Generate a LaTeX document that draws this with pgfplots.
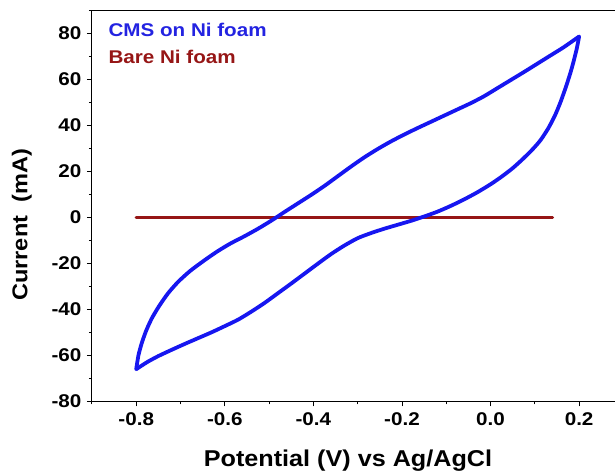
\documentclass[border=0pt]{standalone}
\usepackage{fontspec}
\setmainfont{Liberation Sans}[FakeStretch=1.12]
\newfontfamily\tickfont{Liberation Sans}[FakeStretch=1.12]
\newfontfamily\labelfont{Liberation Sans}[FakeStretch=1.1]
\usepackage{pgfplots}
\usepackage{pgfplotstable}
\pgfplotsset{compat=1.18}

\definecolor{cmsblue}{RGB}{22,22,240}
\definecolor{cmstext}{RGB}{35,35,225}
\definecolor{barered}{RGB}{150,22,22}

% CMS on Ni foam, anodic sweep (-0.8 V -> 0.2 V)
\pgfplotstableread{
V I
-0.800 -66.0
-0.795 -60.0
-0.788 -55.0
-0.778 -49.5
-0.765 -44.0
-0.748 -38.5
-0.728 -33.0
-0.705 -28.0
-0.678 -23.3
-0.648 -19.0
-0.618 -15.0
-0.588 -11.5
-0.555 -8.2
-0.525 -5.0
-0.495 -1.5
-0.465 2.3
-0.435 6.0
-0.405 9.7
-0.375 13.6
-0.345 17.8
-0.315 22.0
-0.285 26.0
-0.255 29.6
-0.225 32.9
-0.195 35.9
-0.165 38.7
-0.135 41.4
-0.105 44.1
-0.075 46.8
-0.045 49.5
-0.015 52.5
0.015 56.0
0.045 59.5
0.075 63.0
0.105 66.6
0.135 70.2
0.165 73.8
0.200 78.5
}\cmsanodic

% CMS on Ni foam, cathodic sweep (0.2 V -> -0.8 V)
\pgfplotstableread{
V I
0.200 78.5
0.195 73.5
0.188 68.0
0.180 62.5
0.170 56.5
0.158 50.0
0.145 44.0
0.130 38.5
0.113 33.5
0.095 29.5
0.073 25.3
0.050 21.3
0.025 17.6
0.000 14.3
-0.030 10.8
-0.060 7.7
-0.090 4.9
-0.120 2.4
-0.150 0.3
-0.180 -1.6
-0.210 -3.3
-0.240 -5.0
-0.270 -6.9
-0.300 -9.1
-0.330 -12.3
-0.360 -16.0
-0.390 -20.2
-0.420 -24.5
-0.450 -28.8
-0.480 -33.0
-0.510 -37.2
-0.540 -41.0
-0.570 -44.5
-0.600 -47.3
-0.630 -50.0
-0.660 -52.5
-0.690 -55.0
-0.720 -57.6
-0.750 -60.3
-0.775 -62.9
-0.800 -66.0
}\cmscathodic

% Bare Ni foam: flat response over the same window
\pgfplotstableread{
V I
-0.80 0
-0.60 0
-0.40 0
-0.20 0
0.00 0
0.14 0
}\baredata

\begin{document}
\begin{tikzpicture}
\begin{axis}[
  name=ax,
  scale only axis,
  width=523bp, height=391.7bp,
  xmin=-0.9, xmax=0.28, ymin=-80, ymax=90,
  axis x line*=box, axis y line*=left,
  axis line style={-, line width=0.9pt, black},
  xtick={-0.8,-0.6,-0.4,-0.2,0,0.2},
  minor xtick={-0.9,-0.7,-0.5,-0.3,-0.1,0.1},
  ytick={-80,-60,-40,-20,0,20,40,60,80},
  minor ytick={-70,-50,-30,-10,10,30,50,70,90},
  xtick pos=bottom, ytick pos=left,
  tick align=outside,
  major tick length=5bp, minor tick length=3bp,
  tick style={line width=0.9pt, black},
  /pgf/number format/assume math mode=true,
  ticklabel style={font=\tickfont\fontsize{18.5}{18.5}\selectfont\bfseries, text=black},
  xticklabel style={yshift=-3bp, /pgf/number format/.cd, fixed, fixed zerofill, precision=1},
  yticklabel style={xshift=-2bp},
  xlabel={Potential (V) vs Ag/AgCl},
  ylabel={Current\ \ (mA)},
  xlabel style={font=\labelfont\fontsize{23}{24}\selectfont\bfseries, text=black,
    at={(axis description cs:0.49,-0.166)}, anchor=base},
  ylabel style={font=\labelfont\fontsize{21.5}{22}\selectfont\bfseries, text=black,
    at={(axis description cs:-0.134,0.451)}, anchor=center, rotate=0},
]
\addplot[barered, line width=3.3pt, line cap=round] table[x=V, y=I] {\baredata};
\addplot[cmsblue, line width=3.8pt, line join=round, line cap=round, smooth, tension=0.4]
  table[x=V, y=I] {\cmsanodic};
\addplot[cmsblue, line width=3.8pt, line join=round, line cap=round, smooth, tension=0.4]
  table[x=V, y=I] {\cmscathodic};
\node[anchor=base west, text=cmstext, font=\fontsize{18.5}{19}\selectfont\bfseries]
  at (axis description cs:0.025,0.932) {CMS on Ni foam};
\node[anchor=base west, text=barered, font=\fontsize{18.5}{19}\selectfont\bfseries]
  at (axis description cs:0.025,0.864) {Bare Ni foam};
\end{axis}
\path[use as bounding box] ([xshift=-92bp,yshift=-69.3bp]ax.south west) rectangle ([yshift=10bp]ax.north east);
\end{tikzpicture}
\end{document}
